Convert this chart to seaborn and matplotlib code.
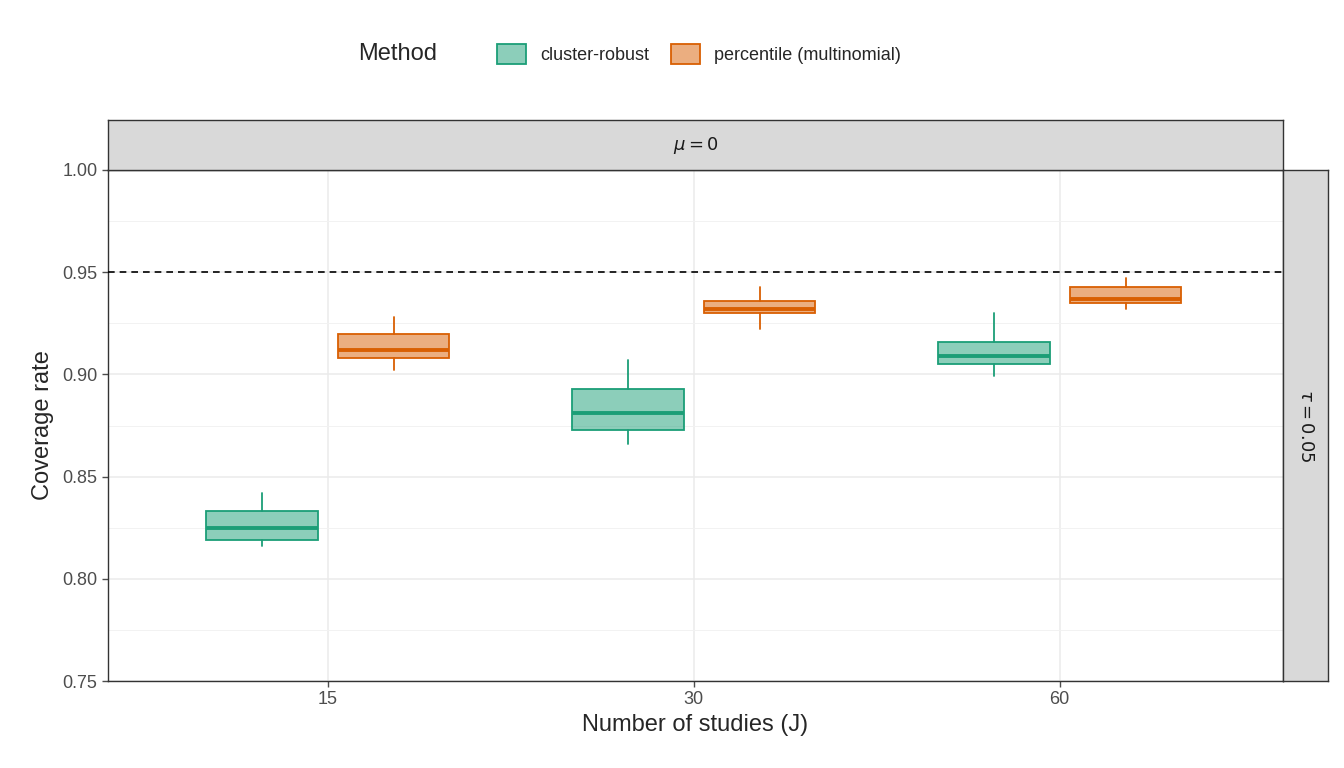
import numpy as np
import matplotlib
matplotlib.use("Agg")
import matplotlib.pyplot as plt
import seaborn as sns
from matplotlib.patches import Patch, Rectangle
from matplotlib.lines import Line2D

sns.set_theme(style="white")
plt.rcParams["font.family"] = ["Liberation Sans", "DejaVu Sans"]

studies = ["15", "30", "60"]
methods = ["cluster-robust", "percentile (multinomial)"]
colors = ["#1B9E77", "#D95F02"]
# box stats: whislo, q1, med, q3, whishi
cluster_stats = [[0.816, 0.819, 0.825, 0.833, 0.842],
                 [0.866, 0.873, 0.881, 0.893, 0.907],
                 [0.899, 0.905, 0.909, 0.916, 0.930]]
percentile_stats = [[0.902, 0.908, 0.912, 0.920, 0.928],
                    [0.922, 0.930, 0.932, 0.936, 0.943],
                    [0.932, 0.935, 0.937, 0.943, 0.947]]

W, H = 1344, 768
fig = plt.figure(figsize=(W / 100, H / 100), dpi=100)
px = lambda x0, y0, x1, y1: [x0 / W, 1 - y1 / H, (x1 - x0) / W, (y1 - y0) / H]
ax = fig.add_axes(px(108, 170, 1283, 681))

offsets = [-0.18, 0.18]
for m, (stats, col) in enumerate(zip([cluster_stats, percentile_stats], colors)):
    bxp = [dict(whislo=s[0], q1=s[1], med=s[2], q3=s[3], whishi=s[4], fliers=[])
           for s in stats]
    pos = np.arange(len(studies)) + offsets[m]
    ax.bxp(bxp, positions=pos, widths=0.305, patch_artist=True, showcaps=False,
           boxprops=dict(facecolor=matplotlib.colors.to_rgba(col, 0.5), edgecolor=col, linewidth=1.3),
           whiskerprops=dict(color=col, linewidth=1.3),
           medianprops=dict(color=col, linewidth=2.8), zorder=3)

ax.axhline(0.95, color="black", linestyle=(0, (4, 3)), linewidth=1.2, zorder=4)
ax.set_xlim(-0.6, 2.61)
ax.set_ylim(0.75, 1.0)
ax.set_xticks(range(3))
ax.set_xticklabels(studies)
ax.set_yticks(np.arange(0.75, 1.001, 0.05))
ax.set_yticklabels([f"{v:.2f}" for v in np.arange(0.75, 1.001, 0.05)])
ax.set_yticks(np.arange(0.775, 1.0, 0.05), minor=True)
ax.grid(True, which="major", color="#EBEBEB", linewidth=1.1, zorder=0)
ax.grid(True, which="minor", axis="y", color="#F2F2F2", linewidth=0.7, zorder=0)
ax.set_axisbelow(True)
for s in ax.spines.values():
    s.set_color("#333333"); s.set_linewidth(1.0)
ax.tick_params(axis="both", labelsize=13, colors="#4D4D4D", length=4, width=1,
               direction="out", left=True, bottom=True)
ax.set_xlabel("Number of studies (J)", fontsize=17, labelpad=4)
ax.set_ylabel("Coverage rate", fontsize=17, labelpad=6)

# strips
top = fig.add_axes(px(108, 120, 1283, 170))
right = fig.add_axes(px(1283, 170, 1328, 681))
for a in (top, right):
    a.set_facecolor("#D9D9D9")
    a.set_xticks([]); a.set_yticks([])
    for s in a.spines.values():
        s.set_color("#333333"); s.set_linewidth(1.0)
top.text(0.5, 0.5, r"$\mu = 0$", ha="center", va="center", fontsize=13, color="#1A1A1A")
right.text(0.5, 0.5, r"$\tau = 0.05$", ha="center", va="center", fontsize=13,
           rotation=-90, color="#1A1A1A")

handles = [Patch(facecolor=matplotlib.colors.to_rgba(c, 0.5), edgecolor=c, linewidth=1.3, label=m)
           for c, m in zip(colors, methods)]
fig.legend(handles=handles, loc="center", bbox_to_anchor=(0.52, 1 - 54 / H), ncol=2,
           frameon=False, fontsize=13, title="Method", title_fontsize=17,
           handlelength=1.6, handleheight=1.3, columnspacing=1.2,
           alignment="left")
leg = fig.legends[0]
leg._legend_box.align = "left"
# put the title inline to the left
leg.set_title(None)
fig.text(0.375 - 0.05, 1 - 54 / H, "Method", fontsize=17, ha="right", va="center")

fig.savefig("out.png", dpi=100)
